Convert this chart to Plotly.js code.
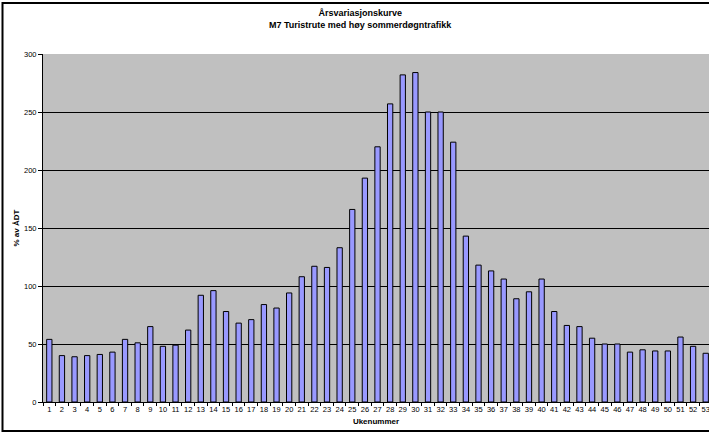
<!DOCTYPE html>
<html>
<head>
<meta charset="utf-8">
<script src="https://cdn.plot.ly/plotly-3.0.1.min.js"></script>
<style>html,body{margin:0;padding:0;overflow:hidden;background:#fff}#chart{width:709px;height:434px}</style>
</head>
<body>
<div id="chart"></div>
<script>
var weeks = ["1","2","3","4","5","6","7","8","9","10","11","12","13","14","15","16","17","18","19","20","21","22","23","24","25","26","27","28","29","30","31","32","33","34","35","36","37","38","39","40","41","42","43","44","45","46","47","48","49","50","51","52","53"];
var values = [54,40,39,40,41,43,54,51,65,48,49,62,92,96,78,68,71,84,81,94,108,117,116,133,166,193,220,257,282,284,250,250,224,143,118,113,106,89,95,106,78,66,65,55,50,50,43,45,44,44,56,48,42];
var yTicks = [0,50,100,150,200,250,300];
var titleLines = ["Årsvariasjonskurve","M7 Turistrute med høy sommerdøgntrafikk"];
var xTitle = "Ukenummer";
var yTitle = "% av ÅDT";

var F = "Liberation Sans, Arial, sans-serif";
var trace = {
  type: "bar",
  x: weeks,
  y: values,
  marker: {color: "#9999FF", line: {color: "#000000", width: 1}},
  hoverinfo: "x+y"
};
var layout = {
  width: 709, height: 434,
  margin: {l: 43, r: 0, t: 54, b: 32, pad: 0},
  paper_bgcolor: "#ffffff",
  plot_bgcolor: "#C0C0C0",
  bargap: 0.58,
  showlegend: false,
  title: {
    text: "<b>" + titleLines.join("<br>") + "</b>",
    font: {family: F, size: 9, color: "#000"},
    x: 0.508, xref: "container", xanchor: "center",
    y: 0.963, yref: "container", yanchor: "top"
  },
  xaxis: {
    type: "category",
    range: [-0.5, 52.26],
    tickson: "boundaries",
    ticks: "outside", ticklen: 3, tickcolor: "#000", tickwidth: 1,
    showline: true, linecolor: "#000", linewidth: 1,
    showgrid: false, zeroline: false,
    tickfont: {family: F, size: 7.5, color: "#000"},
    tickangle: 0,
    title: {text: "<b>" + xTitle + "</b>", font: {family: F, size: 8, color: "#000"}, standoff: 5}
  },
  yaxis: {
    range: [0, 300],
    tickvals: yTicks,
    ticks: "outside", ticklen: 4, tickcolor: "#000", tickwidth: 1,
    showline: true, linecolor: "#000", linewidth: 1,
    showgrid: true, gridcolor: "#000", gridwidth: 1,
    zeroline: false,
    tickfont: {family: F, size: 7.5, color: "#000"},
    title: {text: "<b>" + yTitle + "</b>", font: {family: F, size: 8, color: "#000"}, standoff: 3}
  },
  shapes: [{
    type: "path", xref: "paper", yref: "paper",
    path: "M 1.2 " + (1 + (54 - 3) / 348) +
          " L " + ((2.5 - 43) / 666) + " " + (1 + (54 - 3) / 348) +
          " L " + ((2.5 - 43) / 666) + " " + (-(431 - 402) / 348) +
          " L 1.2 " + (-(431 - 402) / 348),
    line: {color: "#000", width: 2}, fillcolor: "rgba(0,0,0,0)", layer: "above"
  }]
};
Plotly.newPlot("chart", [trace], layout, {displayModeBar: false, staticPlot: true});
</script>
</body>
</html>
